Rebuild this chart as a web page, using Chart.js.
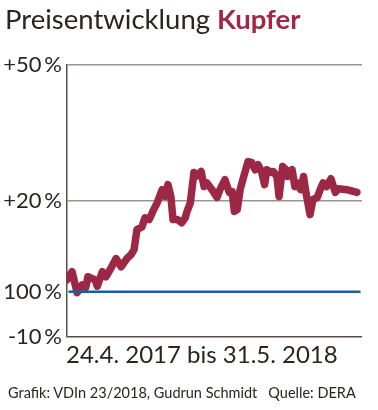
<!DOCTYPE html>
<html>
<head>
<meta charset="utf-8">
<script src="https://cdn.jsdelivr.net/npm/chart.js@4/dist/chart.umd.min.js"></script>
<style>
  body { margin: 0; background: #fff; }
  #wrap { position: relative; width: 378px; height: 410px; font-family: Lato, sans-serif; color: #2b241f; }
  #chart { position: absolute; left: 0; top: 0; }
  .txt { position: absolute; white-space: nowrap; }
  #title { left: 5px; top: 2px; font-size: 27.5px; }
  #title b { color: #9e2846; font-weight: 700; }
  #period { left: 66px; top: 339px; font-size: 24px; }
  #credit { left: 8px; top: 384px; font-size: 14.5px; }
</style>
</head>
<body>
<div id="wrap">
  <canvas id="chart" width="378" height="410"></canvas>
  <div class="txt" id="title">Preisentwicklung <b>Kupfer</b></div>
  <div class="txt" id="period">24.4. 2017 bis 31.5. 2018</div>
  <div class="txt" id="credit">Grafik: VDIn 23/2018, Gudrun Schmidt&nbsp;&nbsp;&nbsp;Quelle: DERA</div>
</div>
<script>
// days since 24.4.2017 and price change in percent
var days = [0, 7, 14, 21, 26, 29, 39, 42, 49, 54, 60, 68, 75, 83, 89, 93, 97, 104, 108, 114,
    119, 125, 132, 136, 140, 144, 147, 153, 159, 164, 166, 171, 176, 180, 186, 190, 194, 201, 208, 212,
    219, 225, 229, 232, 236, 240, 245, 251, 256, 261, 265, 270, 274, 277, 283, 286, 291, 294, 299, 304,
    306, 312, 316, 319, 324, 328, 331, 337, 341, 347, 351, 355, 360, 366, 372, 376, 388, 402];
var change = [2.6, 4.4, -0.2, 1.5, 0.9, 3.3, 2.6, 1.2, 4.4, 3.3, 4.9, 7.3, 5.5, 7.3, 8.2, 9.3, 13.7, 14.3, 16.3, 15.9,
    17.7, 19.6, 22.5, 21.0, 23.6, 21.0, 15.9, 15.9, 15.2, 16.3, 17.5, 19.6, 26.3, 25.5, 26.5, 23.2, 24.0, 22.5, 20.8, 22.5,
    24.7, 21.9, 22.1, 17.7, 18.1, 22.5, 25.4, 28.7, 28.5, 26.9, 28.0, 26.3, 23.6, 26.9, 26.3, 26.5, 25.4, 21.0, 27.6, 26.9,
    25.4, 26.9, 23.2, 24.0, 22.5, 25.4, 22.1, 17.0, 20.3, 20.8, 22.5, 24.0, 23.2, 24.9, 21.9, 22.7, 22.5, 21.9];
var tickValues = [-10, 0, 20, 50];
var tickLabels = {'-10': '-10\u2009%', '0': '100\u2009%', '20': '+20\u2009%', '50': '+50\u2009%'};
var lastDay = 409;

var copper = days.map(function(d, i) { return {x: d, y: change[i]}; });
var base = [{x: 2, y: 0}, {x: lastDay - 2, y: 0}];

new Chart(document.getElementById('chart'), {
    type: 'line',
    data: {
        datasets: [{
            label: '100 %',
            data: base,
            borderColor: '#1b5d9c',
            borderWidth: 2.5,
            pointRadius: 0
        }, {
            label: 'Kupfer',
            data: copper,
            borderColor: '#9c2845',
            borderWidth: 7.5,
            borderJoinStyle: 'round',
            borderCapStyle: 'round',
            pointRadius: 0,
            tension: 0
        }]
    },
    options: {
        responsive: false,
        animation: false,
        layout: { padding: { top: 65, bottom: 73, right: 16, left: 0 } },
        plugins: { legend: { display: false }, tooltip: { enabled: false } },
        scales: {
            x: {
                type: 'linear',
                min: 0,
                max: lastDay,
                display: false
            },
            y: {
                min: -10,
                max: 50,
                afterBuildTicks: function(scale) {
                    scale.ticks = tickValues.map(function(v) { return {value: v}; });
                },
                afterFit: function(scale) { scale.width = 67; },
                border: { color: '#5b4d45', width: 1.5 },
                grid: {
                    drawTicks: false,
                    lineWidth: 1.5,
                    color: function(ctx) {
                        var v = ctx.tick ? ctx.tick.value : null;
                        if (v === -10) return '#5b4d45';
                        if (v === 0) return 'rgba(0,0,0,0)';
                        return '#9d948d';
                    }
                },
                ticks: {
                    padding: 5,
                    color: '#2b241f',
                    font: { family: 'Lato', size: 22 },
                    callback: function(v) { return tickLabels[String(v)]; }
                }
            }
        }
    }
});
</script>
</body>
</html>
